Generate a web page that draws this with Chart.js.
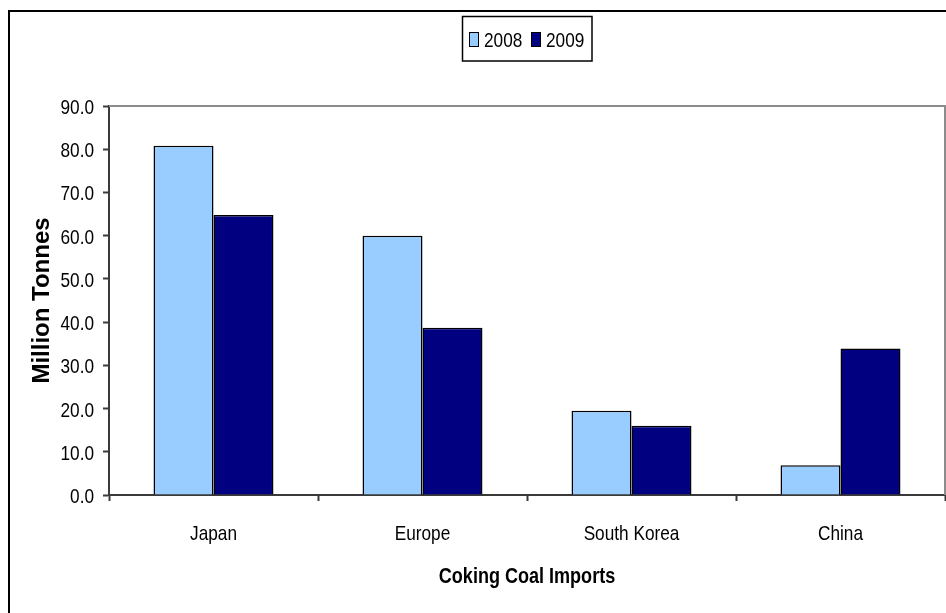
<!DOCTYPE html>
<html>
<head>
<meta charset="utf-8">
<script src="https://cdn.jsdelivr.net/npm/chart.js@4"></script>
<style>
html,body{margin:0;padding:0;background:#fff;}
canvas{display:block;}
</style>
</head>
<body>
<canvas id="c" width="946" height="613"></canvas>
<script>
const categories = ["Japan", "Europe", "South Korea", "China"];
const seriesLabels = ["2008", "2009"];
const values2008 = [80.8, 60.0, 19.5, 6.9];
const values2009 = [64.8, 38.7, 16.0, 33.9];
const yTicks = [0, 10, 20, 30, 40, 50, 60, 70, 80, 90];
const xTitle = "Coking Coal Imports";
const yTitle = "Million Tonnes";

const REG = "'Liberation Sans', Arial, sans-serif";
const SQUEEZE = 0.82; // narrow-face look

function narrowText(ctx, text, x, y, align, font) {
  ctx.save();
  ctx.font = font;
  ctx.textBaseline = 'alphabetic';
  const w = ctx.measureText(text).width * SQUEEZE;
  let left = x;
  if (align === 'right') left = x - w;
  else if (align === 'center') left = x - w / 2;
  ctx.translate(left, y);
  ctx.scale(SQUEEZE, 1);
  ctx.textAlign = 'left';
  ctx.fillStyle = '#000';
  ctx.fillText(text, 0, 0);
  ctx.restore();
}

const framePlugin = {
  id: 'frame',
  beforeDraw(chart) {
    const ctx = chart.ctx;
    ctx.save();
    ctx.fillStyle = '#fff';
    ctx.fillRect(0, 0, chart.width, chart.height);
    ctx.strokeStyle = '#000';
    ctx.lineWidth = 2;
    ctx.beginPath();
    ctx.moveTo(9, chart.height + 5);
    ctx.lineTo(9, 11);
    ctx.lineTo(chart.width + 5, 11);
    ctx.stroke();
    ctx.restore();
  },
  afterDatasetsDraw(chart) {
    const ctx = chart.ctx;
    const a = chart.chartArea;
    ctx.save();
    ctx.strokeStyle = '#8c8c8c';
    ctx.lineWidth = 2;
    ctx.beginPath();
    ctx.moveTo(a.left, a.top);
    ctx.lineTo(a.right, a.top);
    ctx.lineTo(a.right, a.bottom);
    ctx.stroke();
    ctx.restore();
  },
  afterDraw(chart) {
    const ctx = chart.ctx;
    const xs = chart.scales.x, ys = chart.scales.y;
    const tickFont = '21px ' + REG;
    // y tick labels
    ys.ticks.forEach(t => {
      narrowText(ctx, Number(t.value).toFixed(1), 94, ys.getPixelForValue(t.value) + 8, 'right', tickFont);
    });
    // x tick labels
    chart.data.labels.forEach((lab, i) => {
      narrowText(ctx, lab, xs.getPixelForValue(i), 540, 'center', tickFont);
    });
    // x title
    narrowText(ctx, xTitle, (chart.chartArea.left + chart.chartArea.right) / 2, 583, 'center', 'bold 22px ' + REG);
    // legend box
    ctx.save();
    ctx.strokeStyle = '#000';
    ctx.lineWidth = 1.5;
    ctx.strokeRect(462.5, 16.5, 129.5, 44.5);
    const boxX = [469, 531];
    chart.data.datasets.forEach((ds, i) => {
      ctx.fillStyle = ds.backgroundColor;
      ctx.fillRect(boxX[i], 32, 9, 14);
      ctx.strokeStyle = '#000';
      ctx.lineWidth = 1;
      ctx.strokeRect(boxX[i] + 0.5, 32.5, 9, 14);
      narrowText(ctx, ds.label, boxX[i] + 15, 46.5, 'left', tickFont);
    });
    ctx.restore();
  }
};

new Chart(document.getElementById('c'), {
  type: 'bar',
  data: {
    labels: categories,
    datasets: [
      { label: seriesLabels[0], data: values2008, backgroundColor: '#99CCFF', borderColor: '#000', borderWidth: 1.5, categoryPercentage: 0.574, barPercentage: 1.0 },
      { label: seriesLabels[1], data: values2009, backgroundColor: '#000080', borderColor: '#000', borderWidth: 1.5, categoryPercentage: 0.574, barPercentage: 1.0 }
    ]
  },
  options: {
    responsive: false,
    animation: false,
    devicePixelRatio: 1,
    layout: { padding: { top: 106, right: 1, left: 0, bottom: 0 } },
    plugins: { legend: { display: false }, tooltip: { enabled: false } },
    scales: {
      x: {
        afterFit(s) { s.height = 118; },
        grid: { display: true, offset: true, drawOnChartArea: false, drawTicks: true, tickLength: 6, color: '#3a3a3a', tickColor: '#3a3a3a', tickWidth: 2 },
        border: { display: true, color: '#3a3a3a', width: 2 },
        ticks: { display: false },
        title: { display: false, text: xTitle }
      },
      y: {
        min: 0, max: 90,
        afterFit(s) { s.width = 109; },
        afterBuildTicks(s) { s.ticks = yTicks.map(v => ({ value: v })); },
        grid: { display: true, drawOnChartArea: false, drawTicks: true, tickLength: 6, color: '#3a3a3a', tickColor: '#3a3a3a', tickWidth: 2 },
        border: { display: true, color: '#3a3a3a', width: 2 },
        ticks: { display: false },
        title: { display: true, text: yTitle, color: '#000', font: { family: REG, size: 24, weight: 'bold' }, padding: { top: 28, bottom: 0 } }
      }
    }
  },
  plugins: [framePlugin]
});
</script>
</body>
</html>
